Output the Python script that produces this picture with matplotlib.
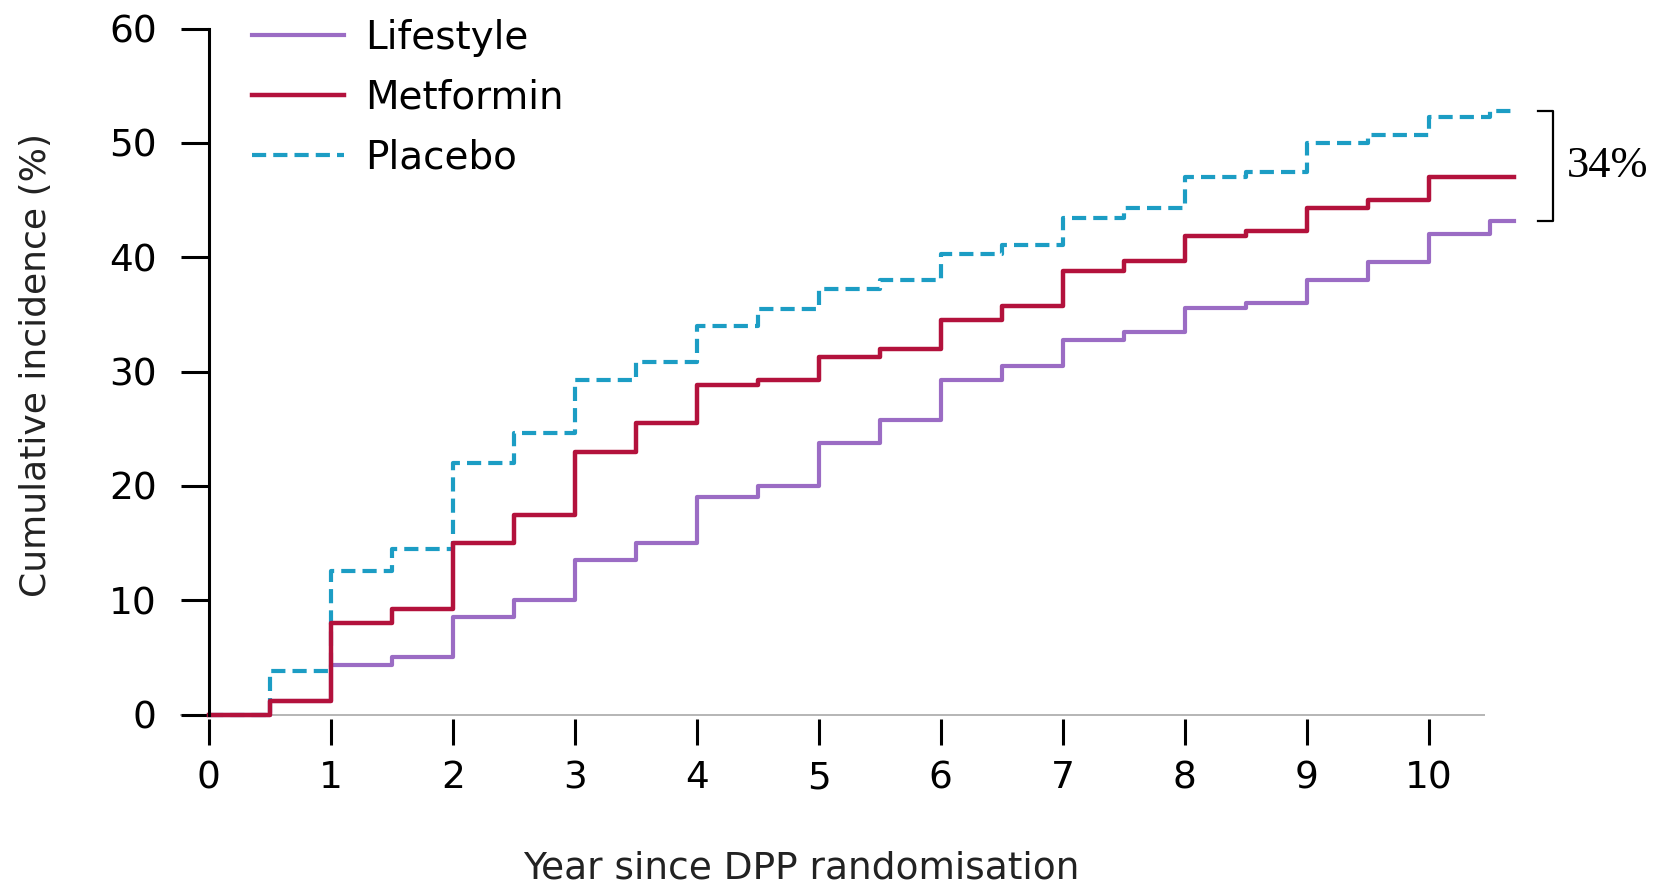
import matplotlib
matplotlib.use("Agg")
import matplotlib.pyplot as plt

# step times (years) and cumulative incidence (%)
years = [0, 0.5, 1, 1.5, 2, 2.5, 3, 3.5, 4, 4.5, 5, 5.5,
         6, 6.5, 7, 7.5, 8, 8.5, 9, 9.5, 10, 10.5]
end_year = 10.7

lifestyle = [0, 1.2, 4.3, 5.0, 8.5, 10.0, 13.5, 15.0, 19.0, 20.0, 23.8, 25.8,
             29.3, 30.5, 32.8, 33.5, 35.6, 36.0, 38.0, 39.6, 42.0, 43.2]
metformin = [0, 1.2, 8.0, 9.2, 15.0, 17.5, 23.0, 25.5, 28.8, 29.3, 31.3, 32.0,
             34.5, 35.7, 38.8, 39.7, 41.9, 42.3, 44.3, 45.0, 47.0, 47.0]
placebo = [0, 3.8, 12.6, 14.5, 22.0, 24.6, 29.3, 30.8, 34.0, 35.5, 37.2, 38.0,
           40.3, 41.1, 43.4, 44.3, 47.0, 47.5, 50.0, 50.7, 52.3, 52.8]

xticks = list(range(0, 11))
yticks = [0, 10, 20, 30, 40, 50, 60]
reduction_label = "34%"

col_life = "#9b6cc4"
col_met = "#b3123c"
col_plac = "#1c9dc4"

plt.rcParams['font.family'] = ['DejaVu Sans']

fig = plt.figure(figsize=(16.6, 8.89), dpi=100)
ax = fig.add_axes([0.0817, 0.1704, 0.8671, 0.8103])
ax.set_xlim(-0.6, 11.2)
ax.set_ylim(-2, 61)

t = years + [end_year]
h1, = ax.step(t, lifestyle + [lifestyle[-1]], where='post', color=col_life, lw=3.0)
h3, = ax.step(t, placebo + [placebo[-1]], where='post', color=col_plac, lw=3.0,
              linestyle=(0, (3.4, 1.7)))
h2, = ax.step(t, metformin + [metformin[-1]], where='post', color=col_met, lw=3.2)

# light baseline at zero
ax.hlines(0, -0.235, 10.46, color='#b0b0b0', lw=1.3, zorder=0)

# axes styling
for s in ['top', 'right']:
    ax.spines[s].set_visible(False)
ax.spines['left'].set_position(('data', 0))
ax.spines['left'].set_bounds(0, 60)
ax.spines['left'].set_linewidth(2.2)
ax.spines['bottom'].set_position(('data', -0.4))
ax.spines['bottom'].set_visible(False)

ax.set_xticks(xticks)
ax.set_yticks(yticks)
ax.tick_params(axis='y', direction='out', length=20.5, width=2.2, pad=17, labelsize=27)
ax.tick_params(axis='x', direction='out', length=18.5, width=2.2, pad=11, labelsize=27)

ax.set_ylabel("Cumulative incidence (%)", fontsize=26, color='#222222')
ax.yaxis.set_label_coords(0.032, 0.589, transform=fig.transFigure)
ax.set_xlabel("Year since DPP randomisation", fontsize=27, color='#222222')
ax.xaxis.set_label_coords(0.4827, 0.043, transform=fig.transFigure)

# bracket showing difference between placebo and lifestyle
bx = 11.02
ax.plot([10.9, bx, bx, 10.9], [placebo[-1], placebo[-1], lifestyle[-1], lifestyle[-1]],
        color='black', lw=1.6, clip_on=False)
ax.text(11.13, (placebo[-1] + lifestyle[-1]) / 2, reduction_label, fontsize=32,
        family='Liberation Serif', ha='left', va='center')

leg = ax.legend([h1, h2, h3], ["Lifestyle", "Metformin", "Placebo"],
                loc='upper left', bbox_to_anchor=(0.1518, 0.979),
                bbox_transform=fig.transFigure, frameon=False, fontsize=28,
                handlelength=2.37, handletextpad=0.54, labelspacing=0.56,
                borderpad=0, borderaxespad=0)

fig.savefig("out.png", dpi=100)
